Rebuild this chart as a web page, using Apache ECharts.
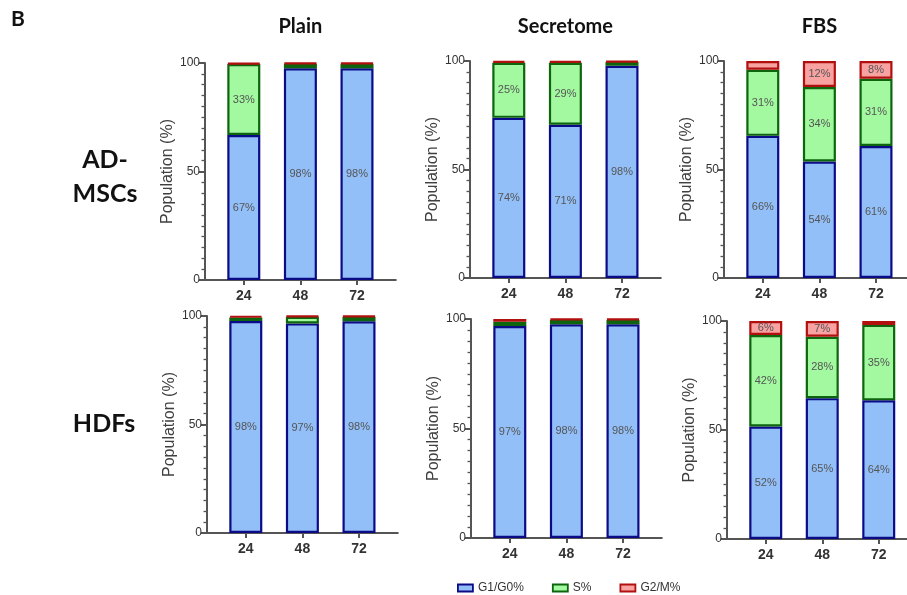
<!DOCTYPE html>
<html>
<head>
<meta charset="utf-8">
<script src="https://cdn.jsdelivr.net/npm/echarts@6/dist/echarts.min.js"></script>
<style>html,body{margin:0;padding:0;background:#fff;}#c{width:907px;height:595px;}</style>
</head>
<body>
<div id="c"></div>
<script>
// ---- data ----
const categories = ['24', '48', '72'];
const columnTitles = ['Plain', 'Secretome', 'FBS'];
const rowTitles = ['AD-\nMSCs', 'HDFs'];
const seriesNames = ['G1/G0%', 'S%', 'G2/M%'];
const yTickValues = [0, 50, 100];
const yAxisTitle = 'Population (%)';
const panelLetter = 'B';

// AD-MSCs
const adPlainG1 = [66.8, 97.6, 97.6];
const adPlainS  = [32.7, 2.0, 2.0];
const adPlainG2 = [0.5, 0.4, 0.4];
const adSecG1 = [73.8, 70.6, 97.8];
const adSecS  = [25.4, 28.6, 1.7];
const adSecG2 = [0.8, 0.8, 0.5];
const adFbsG1 = [65.5, 53.7, 60.8];
const adFbsS  = [30.5, 34.3, 31.0];
const adFbsG2 = [4.0, 12.0, 8.2];
// HDFs
const hdPlainG1 = [97.7, 96.6, 97.6];
const hdPlainS  = [1.6, 3.0, 2.0];
const hdPlainG2 = [0.7, 0.4, 0.4];
const hdSecG1 = [96.8, 97.6, 97.6];
const hdSecS  = [2.0, 2.0, 2.0];
const hdSecG2 = [1.2, 0.4, 0.4];
const hdFbsG1 = [51.6, 64.6, 63.6];
const hdFbsS  = [42.0, 28.2, 34.6];
const hdFbsG2 = [6.4, 7.2, 1.8];

const panelData = [
  [adPlainG1, adPlainS, adPlainG2],
  [adSecG1, adSecS, adSecG2],
  [adFbsG1, adFbsS, adFbsG2],
  [hdPlainG1, hdPlainS, hdPlainG2],
  [hdSecG1, hdSecS, hdSecG2],
  [hdFbsG1, hdFbsS, hdFbsG2]
];

// ---- layout / style ----
const panelBoxes = [
  {left: 205, top: 63, height: 217},
  {left: 470, top: 61, height: 217},
  {left: 724, top: 61, height: 217},
  {left: 207, top: 316, height: 217},
  {left: 471, top: 319, height: 219},
  {left: 727, top: 321, height: 218}
];
const padPx = 10.5, bandPx = 56.6;
const fills = ['#93bff8', '#a3f9a0', '#f8a2a2'];
const borders = ['#0b0b88', '#0d650d', '#b20f0f'];
const axisColor = '#555';

const grids = [], xAxes = [], yAxes = [], series = [];
panelBoxes.forEach((b, i) => {
  const plotW = categories.length * bandPx;
  // frame grid: y axis and full-length x axis line
  grids.push({left: b.left, top: b.top, height: b.height, width: plotW + 2 * padPx});
  // data grid: category bands
  grids.push({left: b.left + padPx, top: b.top, height: b.height, width: plotW});
  const gF = 2 * i, gD = 2 * i + 1;
  xAxes.push({
    gridIndex: gF, type: 'value', min: 0, max: 1,
    splitLine: {show: false}, axisTick: {show: false}, axisLabel: {show: false},
    axisLine: {show: true, onZero: false, lineStyle: {color: axisColor, width: 2}}
  });
  yAxes.push({
    gridIndex: gF, type: 'value', min: 0, max: 100, interval: 50,
    name: yAxisTitle, nameLocation: 'middle', nameGap: 29,
    nameTextStyle: {fontSize: 16, color: '#404040', fontFamily: 'Liberation Sans'},
    splitLine: {show: false},
    axisLine: {show: true, onZero: false, lineStyle: {color: axisColor, width: 2}},
    axisTick: {show: true, length: 6, lineStyle: {color: axisColor, width: 2}},
    minorTick: {show: true, splitNumber: 10, length: 3.5, lineStyle: {color: axisColor, width: 1.3}},
    axisLabel: {fontSize: 12, color: '#333', margin: 5, fontFamily: 'Liberation Sans'}
  });
  xAxes.push({
    gridIndex: gD, type: 'category', data: categories, boundaryGap: true,
    axisLine: {show: false, onZero: false},
    axisTick: {show: true, alignWithLabel: true, length: 5, lineStyle: {color: axisColor, width: 2}},
    axisLabel: {margin: 9, fontSize: 14, fontWeight: 'bold', color: '#333', fontFamily: 'Liberation Sans'}
  });
  yAxes.push({gridIndex: gD, type: 'value', min: 0, max: 100, show: false});
  panelData[i].forEach((vals, s) => {
    series.push({
      name: seriesNames[s], type: 'bar', stack: 'p' + i,
      xAxisIndex: 2 * i + 1, yAxisIndex: 2 * i + 1, barWidth: 33,
      itemStyle: {color: fills[s], borderColor: borders[s], borderWidth: 2.2},
      label: {show: true, position: 'inside', fontSize: 11, color: '#555',
        fontFamily: 'Liberation Sans',
        formatter: p => (p.value >= 5 ? Math.round(p.value) + '%' : '')},
      data: vals
    });
  });
});

const titleFont = 'Lato';
const titles = [];
columnTitles.forEach((t, i) => {
  const b = panelBoxes[i];
  titles.push({text: t, left: b.left + padPx + 1.5 * bandPx, top: 17, textAlign: 'center', padding: 0,
    textStyle: {fontFamily: titleFont, fontWeight: 'bold', fontSize: 20, color: '#111'}});
});
titles.push({text: rowTitles[0], left: 105, top: 143, textAlign: 'center', padding: 0,
  textStyle: {fontFamily: titleFont, fontWeight: 'bold', fontSize: 25, lineHeight: 34, color: '#111'}});
titles.push({text: rowTitles[1], left: 104, top: 407, textAlign: 'center', padding: 0,
  textStyle: {fontFamily: titleFont, fontWeight: 'bold', fontSize: 25, lineHeight: 34, color: '#111'}});
titles.push({text: panelLetter, left: 11, top: 9, padding: 0,
  textStyle: {fontFamily: titleFont, fontWeight: 'bold', fontSize: 21, color: '#111'}});

const chart = echarts.init(document.getElementById('c'), null, {renderer: 'canvas'});
chart.setOption({
  animation: false,
  backgroundColor: '#fff',
  title: titles,
  legend: {data: seriesNames, left: 452, top: 577, itemWidth: 15, itemHeight: 7, itemGap: 28,
    icon: 'rect', itemStyle: {borderWidth: 1.8},
    textStyle: {fontSize: 12, color: '#333', fontFamily: 'Liberation Sans'}},
  grid: grids, xAxis: xAxes, yAxis: yAxes, series: series
});
</script>
</body>
</html>
